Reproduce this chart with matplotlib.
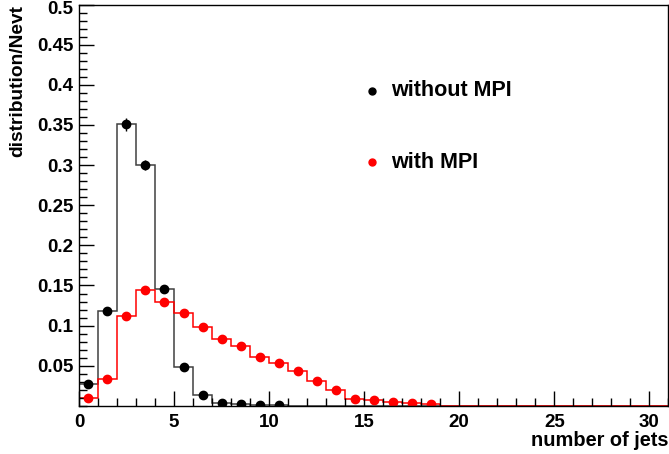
import numpy as np
import matplotlib
matplotlib.use("Agg")
from matplotlib import pyplot as plt
from matplotlib.ticker import MultipleLocator
import matplotlib.transforms as mtransforms

plt.rcParams['font.family'] = ['Liberation Sans', 'DejaVu Sans']
plt.rcParams['font.weight'] = 'bold'

edges = np.arange(0, 32)  # jet multiplicity bins 0..31
without_mpi = [0.027, 0.118, 0.351, 0.300, 0.145, 0.049, 0.014, 0.004, 0.002, 0.001, 0.0008]
without_err = [0.002, 0.003, 0.008, 0.006, 0.003, 0.002, 0.001, 0.0005, 0.0005, 0.0003, 0.0003]
with_mpi = [0.010, 0.034, 0.112, 0.144, 0.130, 0.116, 0.098, 0.083, 0.075, 0.061, 0.053,
            0.043, 0.031, 0.020, 0.009, 0.007, 0.005, 0.003, 0.002]
labels = ['without MPI', 'with MPI']

black_full = np.zeros(31)
black_full[:len(without_mpi)] = without_mpi
red_full = np.zeros(31)
red_full[:len(with_mpi)] = with_mpi
centers = edges[:-1] + 0.5

fig = plt.figure(figsize=(6.69, 4.54), dpi=100)
ax = fig.add_axes([0.118, 0.106, 0.881, 0.884])

ax.stairs(black_full, edges, color='#404040', lw=1.1)
ax.stairs(red_full, edges, color='red', lw=1.1)
ax.errorbar(centers[:len(without_mpi)], without_mpi, yerr=without_err, fmt='o', color='black',
            ms=6, elinewidth=1, capsize=0)
ax.plot(centers[:len(with_mpi)], with_mpi, 'o', color='red', ms=6)

ax.set_xlim(0, 31)
ax.set_ylim(0, 0.5)
ax.xaxis.set_major_locator(MultipleLocator(5))
ax.xaxis.set_minor_locator(MultipleLocator(1))
ax.set_yticks(np.arange(0.05, 0.51, 0.05))
ax.set_yticklabels(['0.05', '0.1', '0.15', '0.2', '0.25', '0.3', '0.35', '0.4', '0.45', '0.5'])
ax.yaxis.set_minor_locator(MultipleLocator(0.01))
ax.tick_params(which='major', direction='in', length=11, width=1, labelsize=13.5, pad=4)
ax.tick_params(which='minor', direction='in', length=6, width=1)
ax.tick_params(axis='x', pad=6)
for s in ax.spines.values():
    s.set_linewidth(1)

# top label sits right at the canvas edge, nudge it down so it is not clipped
top_lab = ax.get_yticklabels()[-1]
top_lab.set_transform(top_lab.get_transform() + mtransforms.ScaledTranslation(0, -3 / 100, fig.dpi_scale_trans))

ax.set_xlabel('number of jets', fontsize=14.4, fontweight='bold', loc='right', labelpad=0)
ax.set_ylabel('distribution/Nevt', fontsize=13.8, fontweight='bold', loc='top', labelpad=8)

# legend entries placed in data space like the ROOT text
ax.plot(15.4, 0.3925, 'o', color='black', ms=5)
ax.text(16.4, 0.3925, labels[0], fontsize=15.5, fontweight='bold', va='center')
ax.plot(15.4, 0.3035, 'o', color='red', ms=5)
ax.text(16.4, 0.3035, labels[1], fontsize=15.5, fontweight='bold', va='center')

fig.savefig('out.png', dpi=100)
